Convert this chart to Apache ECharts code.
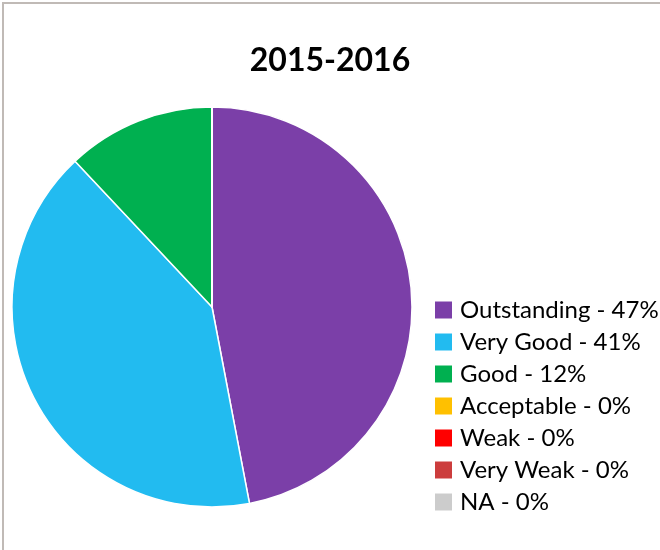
<!DOCTYPE html>
<html>
<head>
<meta charset="utf-8">
<script src="https://cdn.jsdelivr.net/npm/echarts@6/dist/echarts.min.js"></script>
<style>html,body{margin:0;padding:0;background:#fff;}#c{width:660px;height:550px;}</style>
</head>
<body>
<div id="c"></div>
<script>
const titleText = '2015-2016';
const categories = ['Outstanding', 'Very Good', 'Good', 'Acceptable', 'Weak', 'Very Weak', 'NA'];
const values = [47, 41, 12, 0, 0, 0, 0];
const colors = ['#7B3FA8', '#22BBF0', '#00B050', '#FFC000', '#FF0000', '#CC3D3D', '#CCCCCC'];

const chart = echarts.init(document.getElementById('c'), null, {renderer: 'canvas'});
chart.setOption({
  animation: false,
  color: colors,
  title: {
    text: titleText,
    left: 'center',
    top: 40,
    textStyle: {fontFamily: 'Lato', fontWeight: 'bold', fontSize: 32, color: '#000'}
  },
  legend: {
    orient: 'vertical',
    left: 435,
    top: 296,
    height: 250,
    padding: 0,
    itemWidth: 17,
    itemHeight: 17,
    itemGap: 4,
    icon: 'rect',
    selectedMode: false,
    itemStyle: {borderWidth: 0},
    data: categories,
    formatter: function (name) {
      const i = categories.indexOf(name);
      return name + ' - ' + values[i] + '%';
    },
    textStyle: {fontFamily: 'Lato', fontSize: 24, color: '#000', lineHeight: 24, padding: [4, 0, 0, 3]}
  },
  graphic: [{
    type: 'rect',
    shape: {x: 3, y: 3, width: 720, height: 620},
    style: {fill: 'none', stroke: '#C0BAB6', lineWidth: 2},
    silent: true
  }],
  series: [{
    type: 'pie',
    center: [212, 307],
    radius: 200,
    startAngle: 90,
    clockwise: true,
    label: {show: false},
    labelLine: {show: false},
    itemStyle: {borderColor: '#ffffff', borderWidth: 1.5},
    data: categories.map(function (c, i) { return {name: c, value: values[i]}; })
  }]
});
</script>
</body>
</html>
